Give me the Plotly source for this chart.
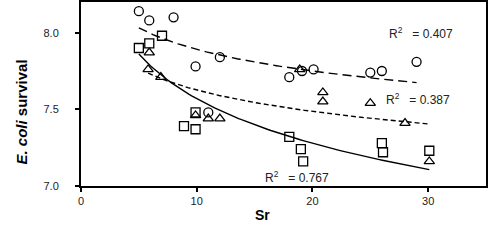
import numpy as np
import plotly.graph_objects as go

# Data
circle_x = [5.0, 5.9, 8.0, 9.9, 11.0, 12.0, 18.0, 19.1, 20.1, 25.0, 26.0, 29.0]
circle_y = [8.14, 8.08, 8.10, 7.78, 7.48, 7.84, 7.71, 7.75, 7.76, 7.74, 7.75, 7.81]

square_x = [5.0, 5.9, 7.0, 9.9, 8.9, 9.9, 18.0, 19.0, 19.2, 26.0, 26.1, 30.1]
square_y = [7.90, 7.93, 7.98, 7.48, 7.39, 7.37, 7.32, 7.24, 7.16, 7.28, 7.22, 7.23]

tri_x = [5.9, 5.8, 6.9, 9.9, 11.0, 12.0, 18.9, 20.9, 20.9, 25.0, 28.0, 30.1]
tri_y = [7.87, 7.76, 7.71, 7.46, 7.44, 7.44, 7.76, 7.61, 7.55, 7.54, 7.41, 7.16]

r2_labels = ["R<sup>2</sup>   = 0.407", "R<sup>2</sup>   = 0.387", "R<sup>2</sup>   = 0.767"]

x_ticks = [0, 10, 20, 30]
y_ticks = [7.0, 7.5, 8.0]


def log_fit(xs, ys):
    xs = np.asarray(xs, float)
    ys = np.asarray(ys, float)
    a, b = np.polyfit(np.log(xs), ys, 1)
    xx = np.linspace(xs.min(), xs.max(), 100)
    return xx, a * np.log(xx) + b


fig = go.Figure()

mk_line = dict(color="black", width=1.3)

fig.add_trace(go.Scatter(x=circle_x, y=circle_y, mode="markers",
                         marker=dict(symbol="circle-open", size=9, line=mk_line, color="black")))
fig.add_trace(go.Scatter(x=square_x, y=square_y, mode="markers",
                         marker=dict(symbol="square-open", size=9, line=mk_line, color="black")))
fig.add_trace(go.Scatter(x=tri_x, y=tri_y, mode="markers",
                         marker=dict(symbol="triangle-up-open", size=9, line=mk_line, color="black")))

cx, cy = log_fit(circle_x, circle_y)
sx, sy = log_fit(square_x, square_y)
tx, ty = log_fit(tri_x, tri_y)

fig.add_trace(go.Scatter(x=cx, y=cy, mode="lines",
                         line=dict(color="black", width=1.4, dash="9px,5px")))
fig.add_trace(go.Scatter(x=tx, y=ty, mode="lines",
                         line=dict(color="black", width=1.4, dash="5px,3px")))
fig.add_trace(go.Scatter(x=sx, y=sy, mode="lines",
                         line=dict(color="black", width=1.4)))

font = "Liberation Sans, Arial, sans-serif"
ann_pos = [(29.4, 8.0), (29.1, 7.57), (18.7, 7.06)]
for (ax, ay), txt in zip(ann_pos, r2_labels):
    fig.add_annotation(x=ax, y=ay, text=txt.replace("   ", "\u00a0\u00a0\u00a0"), showarrow=False,
                       font=dict(family=font, size=12, color="#222"))

fig.add_annotation(xref="paper", yref="paper", x=(10 - 81) / 405, y=(186 - 112) / 184,
                   text="<b><i>E. coli</i> survival</b>", textangle=-90, showarrow=False,
                   font=dict(family=font, size=15, color="black"))
fig.add_annotation(xref="paper", yref="paper", x=(262 - 81) / 405, y=(186 - 225) / 184,
                   text="<b>Sr</b>", showarrow=False,
                   font=dict(family=font, size=14, color="black"))

fig.update_layout(
    width=488, height=240,
    margin=dict(l=81, r=2, t=2, b=54, autoexpand=False),
    paper_bgcolor="white", plot_bgcolor="white",
    showlegend=False,
    font=dict(family=font, size=11, color="#222"),
)
fig.update_xaxes(range=[0, 35], tickvals=x_ticks, ticks="outside", ticklen=4, tickwidth=1.5,
                 tickcolor="black", showline=True, linecolor="black", linewidth=2, mirror=True,
                 showgrid=False, zeroline=False, automargin=False)
fig.update_yaxes(range=[7.0, 8.2], tickvals=y_ticks, tickformat=".1f", ticks="outside", ticklen=4,
                 tickwidth=1.5, tickcolor="black", showline=True, linecolor="black", linewidth=2,
                 mirror=True, showgrid=False, zeroline=False, ticklabelstandoff=14,
                 automargin=False)

fig.write_html("out.html", config={"displayModeBar": False},
               post_script="document.body.style.margin='0';document.body.style.overflow='hidden';")
